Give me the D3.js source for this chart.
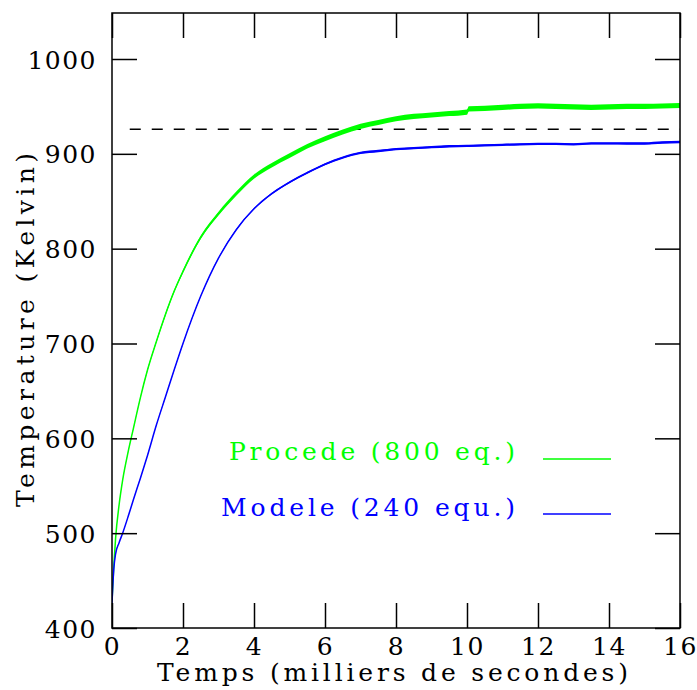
<!DOCTYPE html>
<html>
<head>
<meta charset="utf-8">
<script src="https://cdn.jsdelivr.net/npm/d3@7"></script>
<style>
  html, body { margin: 0; padding: 0; background: #fff; }
  svg { display: block; }
  text { font-family: "DejaVu Serif", "Liberation Serif", serif; }
</style>
</head>
<body>
<svg id="chart" width="697" height="690"></svg>
<script>
// ---- data ----
const times = [0, 0.05, 0.1, 0.2, 0.3, 0.45, 0.6, 0.8, 1.0, 1.25, 1.5, 1.75, 2.0, 2.5, 3.0, 3.5, 4.0, 4.5, 5.0, 5.5, 6.0, 6.5, 7.0, 7.5, 8.0, 8.5, 9.0, 9.5, 10.0, 10.05, 10.5, 11.0, 11.5, 12.0, 12.5, 13.0, 13.5, 14.0, 14.5, 15.0, 15.5, 16.0];
const procede = [428, 465, 494, 530, 556, 585, 610, 643, 672, 702, 730, 755, 776, 812, 837, 858, 876, 888, 898, 908, 916, 923, 929, 933, 937, 939.5, 941, 942.5, 944, 947.5, 948, 949, 950, 950.5, 950, 949.5, 949, 949.5, 950, 950, 950.5, 951];
const procedeNoise = [0.2, 0.3, 0.3, 0.4, 0.5, 0.6, 0.7, 0.8, 1, 1.2, 1.4, 1.5, 1.6, 1.8, 2, 2.2, 2.3, 2.4, 2.5, 2.5, 2.6, 2.6, 2.7, 2.7, 2.7, 2.7, 2.7, 2.7, 2.7, 2.8, 2.8, 2.8, 2.8, 2.8, 2.8, 2.8, 2.8, 2.8, 2.7, 2.7, 2.7, 2.7];
const modele = [426, 462, 478, 490, 500, 517, 535, 558, 582, 614, 643, 672, 700, 750, 790, 820, 842, 858, 870, 880, 889, 896, 901, 903, 905, 906, 907, 908, 908.5, 908.5, 909, 909.5, 910, 910.5, 910.5, 910, 911, 911, 911, 911, 912, 912.5];
const modeleNoise = [0.2, 0.3, 0.3, 0.3, 0.3, 0.3, 0.3, 0.4, 0.4, 0.4, 0.5, 0.5, 0.5, 0.5, 0.6, 0.7, 0.8, 0.9, 1, 1, 1.1, 1.2, 1.2, 1.2, 1.2, 1.2, 1.2, 1.2, 1.2, 1.2, 1.2, 1.2, 1.2, 1.2, 1.2, 1.2, 1.2, 1.2, 1.3, 1.3, 1.4, 1.4];
const referenceLevel = 926;
const referenceStart = 0.5;
const xTicks = [0, 2, 4, 6, 8, 10, 12, 14, 16];
const yTicks = [400, 500, 600, 700, 800, 900, 1000];
const legendLabels = ["Procede (800 eq.)", "Modele (240 equ.)"];
const seriesColors = ["#00ff00", "#0000ff"];
const xTitle = "Temps (milliers de secondes)";
const yTitle = "Temperature (Kelvin)";

// ---- layout ----
const L = 112, R = 680, T = 13, B = 628;
const svg = d3.select("#chart");
const x = d3.scaleLinear().domain([0, 16]).range([L, R]);
const y = d3.scaleLinear().domain([400, 1000]).range([B, 59]);

const series = [
  { values: procede, noise: procedeNoise, color: seriesColors[0] },
  { values: modele, noise: modeleNoise, color: seriesColors[1] }
];

svg.append("clipPath").attr("id", "plotclip")
  .append("rect").attr("x", L).attr("y", T).attr("width", R - L).attr("height", B - T);

const plot = svg.append("g").attr("clip-path", "url(#plotclip)");

// dashed reference line
plot.append("line")
  .attr("x1", x(referenceStart)).attr("x2", x(16))
  .attr("y1", y(referenceLevel)).attr("y2", y(referenceLevel))
  .attr("stroke", "#000").attr("stroke-width", 1.5)
  .attr("stroke-dasharray", "11,11");

series.forEach(s => {
  const pts = times.map((t, i) => ({ t, v: s.values[i], n: s.noise[i] }));
  const area = d3.area()
    .x(d => x(d.t))
    .y0(d => y(d.v - d.n))
    .y1(d => y(d.v + d.n))
    .curve(d3.curveMonotoneX);
  plot.append("path").datum(pts)
    .attr("d", area)
    .attr("fill", s.color);
  const line = d3.line().x(d => x(d.t)).y(d => y(d.v)).curve(d3.curveMonotoneX);
  plot.append("path").datum(pts)
    .attr("d", line)
    .attr("fill", "none")
    .attr("stroke", s.color)
    .attr("stroke-width", 1.5);
});

// axes (ticks inward on all four sides)
const tickLen = 25;
const fontSize = 25;
const gB = svg.append("g").attr("transform", `translate(0,${B})`)
  .call(d3.axisBottom(x).tickValues(xTicks).tickSizeInner(-tickLen).tickSizeOuter(0).tickPadding(9).tickFormat(d3.format("d")));
const gT = svg.append("g").attr("transform", `translate(0,${T})`)
  .call(d3.axisTop(x).tickValues(xTicks).tickSizeInner(-tickLen).tickSizeOuter(0).tickFormat(""));
const gL = svg.append("g").attr("transform", `translate(${L},0)`)
  .call(d3.axisLeft(y).tickValues(yTicks).tickSizeInner(-tickLen).tickSizeOuter(0).tickPadding(15).tickFormat(d3.format("d")));
const gR = svg.append("g").attr("transform", `translate(${R},0)`)
  .call(d3.axisRight(y).tickValues(yTicks).tickSizeInner(-tickLen).tickSizeOuter(0).tickFormat(""));

[gB, gT, gL, gR].forEach(g => {
  g.select(".domain").remove();
  g.selectAll(".tick line").attr("stroke", "#000").attr("stroke-width", 1.5);
  g.selectAll("text")
    .attr("font-family", "DejaVu Serif, serif")
    .attr("font-size", fontSize)
    .attr("fill", "#000")
    .style("letter-spacing", "1.5px");
});
gB.selectAll("text").attr("dy", "0.71em");
gL.selectAll("text").attr("dy", "0.36em");

// frame
svg.append("rect")
  .attr("x", L).attr("y", T).attr("width", R - L).attr("height", B - T)
  .attr("fill", "none").attr("stroke", "#000").attr("stroke-width", 1.5);

// axis titles
svg.append("text")
  .attr("x", 157).attr("y", 681)
  .attr("font-size", fontSize)
  .attr("textLength", 471).attr("lengthAdjust", "spacing")
  .text(xTitle);

svg.append("text")
  .attr("transform", "translate(34,507) rotate(-90)")
  .attr("x", 0).attr("y", 0)
  .attr("font-size", fontSize)
  .attr("textLength", 354).attr("lengthAdjust", "spacing")
  .text(yTitle);

// legend
const legendRows = [
  { label: legendLabels[0], color: seriesColors[0], x0: 229, w: 286, base: 460, ly: 459 },
  { label: legendLabels[1], color: seriesColors[1], x0: 221, w: 294, base: 516, ly: 514 }
];
legendRows.forEach(r => {
  svg.append("text")
    .attr("x", r.x0).attr("y", r.base)
    .attr("font-size", fontSize)
    .attr("fill", r.color)
    .attr("textLength", r.w).attr("lengthAdjust", "spacing")
    .text(r.label);
  svg.append("line")
    .attr("x1", 543).attr("x2", 611)
    .attr("y1", r.ly).attr("y2", r.ly)
    .attr("stroke", r.color).attr("stroke-width", 1.5);
});
</script>
</body>
</html>
